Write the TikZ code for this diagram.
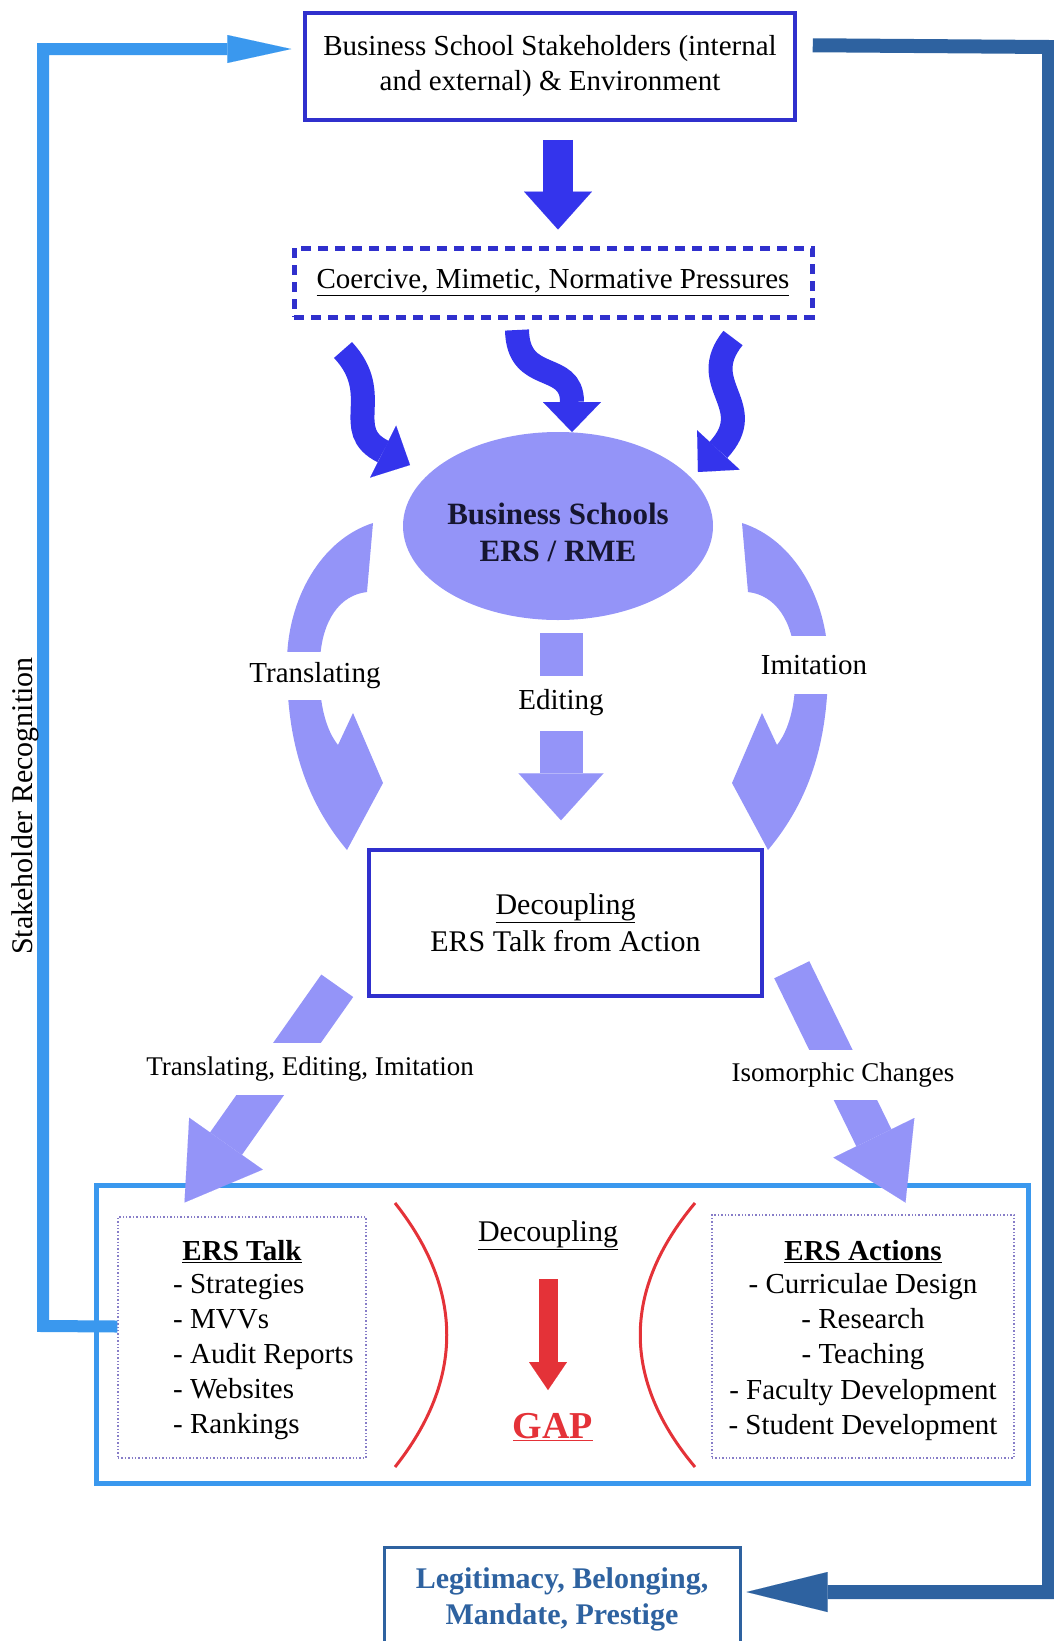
\documentclass[tikz,border=0pt]{standalone}
\usepackage{fontspec}
\setmainfont{Liberation Serif}
\usetikzlibrary{arrows.meta,shapes.geometric,calc}

\definecolor{boxblue}{RGB}{48,48,205}
\definecolor{wavyblue}{RGB}{52,52,236}
\definecolor{lilac}{RGB}{148,148,248}
\definecolor{skyblue}{RGB}{58,152,238}
\definecolor{steel}{RGB}{46,98,160}
\definecolor{gapred}{RGB}{228,50,56}
\definecolor{dotline}{RGB}{135,125,200}
\definecolor{inkdark}{RGB}{22,22,48}

\newcommand{\fsz}[2]{\fontsize{#1}{#2}\selectfont}

\begin{document}
\begin{tikzpicture}[x=1pt,y=-1pt,
  txt/.style={font=\fsz{29}{35}, text=black, inner sep=0pt},
  framebox/.style={draw=boxblue, line width=3.5pt, rectangle, inner sep=0pt},
  pressbox/.style={draw=boxblue, line width=5pt, dash pattern=on 10pt off 7pt, inner sep=0pt},
  listbox/.style={draw=dotline, line width=1.4pt, dotted, inner sep=0pt},
  wavy/.style={draw=wavyblue, line width=24pt, -{Triangle[length=30pt,width=58pt,line width=0.01pt]}},
  lbl/.style={fill=white, inner xsep=3pt, inner ysep=0pt, font=\fsz{29}{35}, text=black},
]
\useasboundingbox (0,0) rectangle (1054,1641);
\clip (0,0) rectangle (1054,1641);

% ---- top: stakeholders and institutional pressures
\node[framebox, minimum width=490pt, minimum height=107pt, align=center, font=\fsz{29}{35}]
  (stake) at (550,66.5) {Business School Stakeholders (internal\\and external) \& Environment};
\node[pressbox, minimum width=518pt, minimum height=69pt, font=\fsz{29}{35}]
  (press) at (553,282.5) {\underline{Coercive, Mimetic, Normative Pressures}};

\draw[wavyblue, line width=30pt, -{Triangle[length=38pt,width=68pt,line width=0.01pt]},
      shorten <=18pt, shorten >=16pt]
  (558,0 |- stake.south) -- (558,0 |- press.north);

% ---- business schools
\node[ellipse, fill=lilac, minimum width=310pt, minimum height=188pt, inner sep=0pt] (bs) at (558,526) {};
\node[txt, align=center, font=\bfseries\fsz{31}{37}, text=inkdark] (bstext) at (558,532) {Business Schools\\ERS / RME};

% wavy pressure arrows
\draw[wavy] ($(press.south)+(-210,30.5)$) .. controls +(42,45) and +(-70,-35) .. ($(bs)+(-148,-61)$);
\draw[wavy] ($(press.south)+(-36,10.5)$) .. controls +(1,55) and +(0,-72) .. ($(bs)+(14,-94)$);
\draw[wavy] ($(press.south)+(180,18.5)$) .. controls +(-38,47) and +(62,-67) .. ($(bs)+(140,-54)$);

% curved translating / imitation arrows
\fill[lilac] (373,523) .. controls (320,540) and (288,600) .. (287,660)
  .. controls (286,740) and (305,800) .. (347,850) -- (383,783) -- (353,713) -- (338,745)
  .. controls (322,725) and (318,690) .. (320,660) .. controls (322,620) and (340,595) .. (367,592) -- cycle;
\fill[lilac] (742,523) .. controls (795,540) and (827,600) .. (828,660)
  .. controls (829,740) and (810,800) .. (768,850) -- (732,783) -- (762,713) -- (777,745)
  .. controls (793,725) and (797,690) .. (795,660) .. controls (793,620) and (775,595) .. (748,592) -- cycle;

% ---- decoupling box
\node[framebox, minimum width=393pt, minimum height=146pt, align=center, font=\fsz{30}{37}]
  (dec) at (565.5,923) {\underline{Decoupling}\\ERS Talk from Action};

\draw[lilac, line width=43pt, -{Triangle[length=47pt,width=85pt,line width=0.01pt]},
      shorten <=13pt, shorten >=28pt]
  (561,0 |- bs.south) -- (561,0 |- dec.north);

\node[lbl, minimum height=48pt] (translbl) at (315,676) {Translating};
\node[lbl, minimum height=58pt] (imitlbl) at (814,665) {Imitation};
\node[lbl, minimum height=55pt] (editlbl) at (561,703) {Editing};

% ---- talk / action panel
\node[draw=skyblue, line width=5pt, minimum width=932pt, minimum height=298pt, inner sep=0pt] (outer) at (562,1334) {};

\draw[lilac, line width=39pt, -{Triangle[length=72pt,width=90pt,line width=0.01pt]}]
  ($(dec.south west)+(-30,-12)$) -- ($(outer.north west)+(91,20)$);
\draw[lilac, line width=39pt, -{Triangle[length=72pt,width=90pt,line width=0.01pt]}]
  ($(dec.south east)+(28,-28)$) -- ($(outer.north east)+(-125,20)$);

\node[lbl, font=\fsz{27}{33}, minimum height=52pt] (telbl) at (310,1069) {Translating, Editing, Imitation};
\node[lbl, font=\fsz{27}{33}, minimum height=50pt] (isolbl) at (843,1075) {Isomorphic Changes};

\node[listbox, minimum width=248pt, minimum height=241pt] (talk) at (242,1337.5) {};
\node[listbox, minimum width=302pt, minimum height=243pt] (act) at (863,1336.5) {};

\node[txt, font=\bfseries\fsz{29}{35}] (talkhead) at (242,1252) {\underline{ERS Talk}};
\node[txt, align=left, anchor=west, font=\fsz{29}{35.2}] (talkitems) at (173,1357)
  {- Strategies\\- MVVs\\- Audit Reports\\- Websites\\- Rankings};

\node[txt, font=\bfseries\fsz{29}{35}] (acthead) at (863,1252) {\underline{ERS Actions}};
\node[txt, align=center, font=\fsz{29}{35.2}] (actitems) at (863,1357)
  {- Curriculae Design\\- Research\\- Teaching\\- Faculty Development\\- Student Development};

\node[txt, font=\fsz{30}{36}] (dec2) at (548,1235) {\underline{Decoupling}};
\node[txt, font=\bfseries\fsz{38}{44}, text=gapred] (gapt) at (553,1427) {\underline{GAP}};
\draw[gapred, line width=19pt, -{Triangle[length=28pt,width=38pt,line width=0.01pt]}]
  ($(dec2)+(0,44)$) -- ($(gapt)+(-5,-37)$);

\draw[gapred, line width=3pt] (395,1203) .. controls (464,1290) and (464,1380) .. (395,1467);
\draw[gapred, line width=3pt] (695,1203) .. controls (622,1290) and (622,1380) .. (695,1467);

% ---- outcome box and feedback loops
\node[draw=steel, line width=3pt, minimum width=356pt, minimum height=104pt, inner sep=0pt,
      align=center, font=\bfseries\fsz{30}{36}, text=steel, anchor=north]
  (leg) at (562,1546) {Legitimacy, Belonging,\\Mandate, Prestige};

\coordinate (fbstart) at ($(stake.north east)+(16,34)$);
\draw[steel, line width=14pt, -{Triangle[length=81pt,width=40pt,line width=0.01pt]}, shorten >=5pt]
  (fbstart) -- (1049,47) -- (1049,1592) -- (leg.east |- 0,1592);

\draw[skyblue, line width=12pt, -{Triangle[length=64pt,width=28pt,line width=0.01pt]}, shorten >=12pt]
  ($(talk.west)+(0,-11)$) -- (43,1326) -- (43,49) -- (stake.west |- 0,49);

\node[txt, rotate=90, font=\fsz{30}{36}] (recog) at (25,806) {Stakeholder Recognition};
\end{tikzpicture}
\end{document}
